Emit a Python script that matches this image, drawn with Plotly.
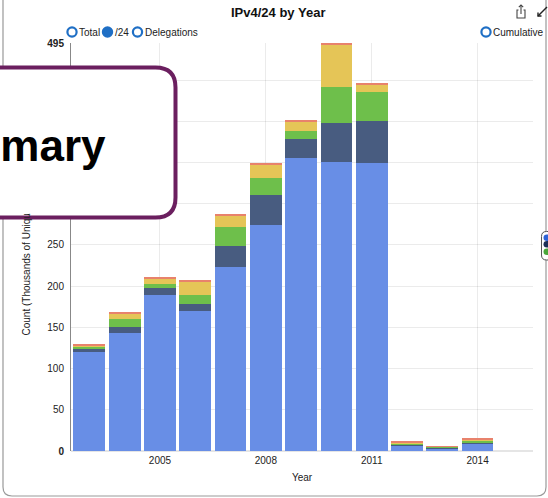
import plotly.graph_objects as go

years = [2003, 2004, 2005, 2006, 2007, 2008, 2009, 2010, 2011, 2012, 2013, 2014]
series_names = ["Series 1", "Series 2", "Series 3", "Series 4", "Series 5"]
s1 = [120.5, 143.6, 189.3, 169.9, 222.9, 274.3, 355.6, 351.0, 350.0, 6.9, 3.2, 8.5]
s2 = [3.7, 6.5, 8.1, 8.5, 25.9, 36.4, 23.0, 47.5, 50.0, 1.2, 0.6, 1.6]
s3 = [2.4, 10.1, 4.9, 10.9, 23.4, 20.2, 9.7, 43.5, 35.0, 1.2, 1.2, 2.9]
s4 = [1.6, 6.9, 6.8, 16.2, 13.0, 16.2, 11.0, 50.5, 10.0, 1.2, 0.6, 0.7]
s5 = [1.3, 1.6, 2.1, 2.4, 2.0, 1.6, 2.0, 2.5, 1.6, 0.5, 0.4, 1.2]
x_tick_vals = [2005, 2008, 2011, 2014]
y_tick_vals = [0, 50, 100, 150, 200, 250, 300, 350, 400, 450, 495]
y_tick_text = ["<b>0</b>", "50", "100", "150", "200", "250", "300", "350", "400", "450", "<b>495</b>"]
colors = ["#688ee6", "#485c80", "#6ebf4b", "#e5c557", "#e8826c"]

W, H = 548, 498
L, R, T, B = 71, 15, 43, 47
PW, PH = W - L - R, H - T - B

def px(x):
    return (x - L) / PW

def py(y):
    return (H - B - y) / PH

def rrect(x0, y0, x1, y1, r):
    def P(x, y):
        return f"{px(x):.5f},{py(y):.5f}"
    return (f"M {P(x0 + r, y0)} L {P(x1 - r, y0)} Q {P(x1, y0)} {P(x1, y0 + r)} "
            f"L {P(x1, y1 - r)} Q {P(x1, y1)} {P(x1 - r, y1)} "
            f"L {P(x0 + r, y1)} Q {P(x0, y1)} {P(x0, y1 - r)} "
            f"L {P(x0, y0 + r)} Q {P(x0, y0)} {P(x0 + r, y0)} Z")

fig = go.Figure()
for name, vals, c in zip(series_names, [s1, s2, s3, s4, s5], colors):
    fig.add_trace(go.Bar(x=years, y=vals, name=name, marker=dict(color=c, line=dict(width=0)),
                         width=0.9, showlegend=False))

FONT = "Liberation Sans, Arial, sans-serif"
shapes = []
annotations = []

# outer frame
shapes.append(dict(type="path", xref="paper", yref="paper", path=rrect(3, -10, 546, 496, 9),
                   line=dict(color="#9a9a9a", width=1.2), fillcolor="rgba(0,0,0,0)", layer="below"))

# radio buttons
radio_col = "#1f6fc5"
def circle(cx, cy, filled):
    r = 4.6
    shapes.append(dict(type="circle", xref="paper", yref="paper",
                       x0=px(cx - r), x1=px(cx + r), y0=py(cy + r), y1=py(cy - r),
                       line=dict(color=radio_col, width=2.2),
                       fillcolor=radio_col if filled else "white"))
circle(72, 32, False)
circle(107.5, 32, True)
circle(137.5, 32, False)
circle(486, 32, False)
for tx, t in [(77, "Total"), (113, "/24"), (143, "Delegations"), (491, "Cumulative")]:
    annotations.append(dict(xref="paper", yref="paper", x=px(tx), y=py(32.5), text=t,
                            xanchor="left", yanchor="middle", showarrow=False,
                            font=dict(size=10, color="#222", family=FONT)))

# title
annotations.append(dict(xref="paper", yref="paper", x=px(278), y=py(12), text="<b>IPv4/24 by Year</b>",
                        xanchor="center", yanchor="middle", showarrow=False,
                        font=dict(size=13, color="#111", family=FONT)))

# y-axis title
annotations.append(dict(xref="paper", yref="paper", x=px(26), y=py(338),
                        text="Count (Thousands of Unique /24s)", textangle=-90,
                        xanchor="center", yanchor="bottom", showarrow=False,
                        font=dict(size=10, color="#222", family=FONT)))

# share / expand icons
icon = dict(color="#444", width=1.1)
shapes += [
    dict(type="path", xref="paper", yref="paper",
         path=f"M {px(518.5)},{py(10)} L {px(517)},{py(10)} L {px(517)},{py(18)} L {px(525)},{py(18)} L {px(525)},{py(10)} L {px(523.5)},{py(10)}",
         line=icon),
    dict(type="line", xref="paper", yref="paper", x0=px(521), x1=px(521), y0=py(14), y1=py(5), line=icon),
    dict(type="path", xref="paper", yref="paper",
         path=f"M {px(518.8)},{py(7.2)} L {px(521)},{py(5)} L {px(523.2)},{py(7.2)}", line=icon),
    dict(type="line", xref="paper", yref="paper", x0=px(538), x1=px(547), y0=py(16), y1=py(7), line=dict(color="#222", width=1.4)),
    dict(type="path", xref="paper", yref="paper",
         path=f"M {px(538)},{py(12.5)} L {px(538)},{py(16)} L {px(541.5)},{py(16)}", line=dict(color="#222", width=1.4)),
]

# right legend fragment
shapes.append(dict(type="path", xref="paper", yref="paper", path=rrect(541.5, 231.5, 560, 260, 5),
                   line=dict(color="#555", width=1), fillcolor="white"))
for cy, c in [(237.7, "#2f63d6"), (244.3, "#1c2f57"), (251.7, "#4aa73a")]:
    shapes.append(dict(type="circle", xref="paper", yref="paper",
                       x0=px(543.5), x1=px(550.5), y0=py(cy + 3.3), y1=py(cy - 3.3),
                       line=dict(width=0), fillcolor=c))

# overlay box (border as shape, white fill as annotation so it covers the axis title)
shapes.append(dict(type="path", xref="paper", yref="paper", path=rrect(-40, 67.5, 175.5, 217.5, 20),
                   line=dict(color="#6b1f5f", width=4), fillcolor="white", layer="above"))
annotations.append(dict(xref="paper", yref="paper", x=px(-20), y=py(71), text=" ",
                        xanchor="left", yanchor="top", showarrow=False, width=180, height=142,
                        bgcolor="white", borderpad=0, borderwidth=0))
annotations.append(dict(xref="paper", yref="paper", x=px(108), y=py(145), text="<b>Summary</b>",
                        xanchor="right", yanchor="middle", showarrow=False,
                        font=dict(size=44, color="#000", family=FONT)))

fig.update_layout(
    width=W, height=H, barmode="stack", bargap=0.1,
    margin=dict(l=L, r=R, t=T, b=B, autoexpand=False),
    paper_bgcolor="white", plot_bgcolor="white",
    font=dict(family=FONT, size=10, color="#222"),
    shapes=shapes, annotations=annotations,
    xaxis=dict(range=[2002.48, 2015.57], tickvals=x_tick_vals, ticks="", showgrid=True,
               gridcolor="rgba(0,0,0,0.08)", gridwidth=1, zeroline=False, showline=False,
               layer="above traces", title=dict(text="Year", standoff=8, font=dict(size=10)),
               tickfont=dict(size=10, color="#222"), ticklabelstandoff=2),
    yaxis=dict(range=[0, 495], tickvals=y_tick_vals, ticktext=y_tick_text, ticks="",
               showgrid=True, gridcolor="rgba(0,0,0,0.08)", gridwidth=1,
               zeroline=True, zerolinecolor="rgba(0,0,0,0.1)",
               showline=True, linecolor="#888", linewidth=1, layer="above traces",
               tickfont=dict(size=10, color="#222"), ticklabelstandoff=4),
)

fig.write_html("out.html", config={"displayModeBar": False},
               post_script="document.body.style.margin='0';document.body.style.overflow='hidden';")
